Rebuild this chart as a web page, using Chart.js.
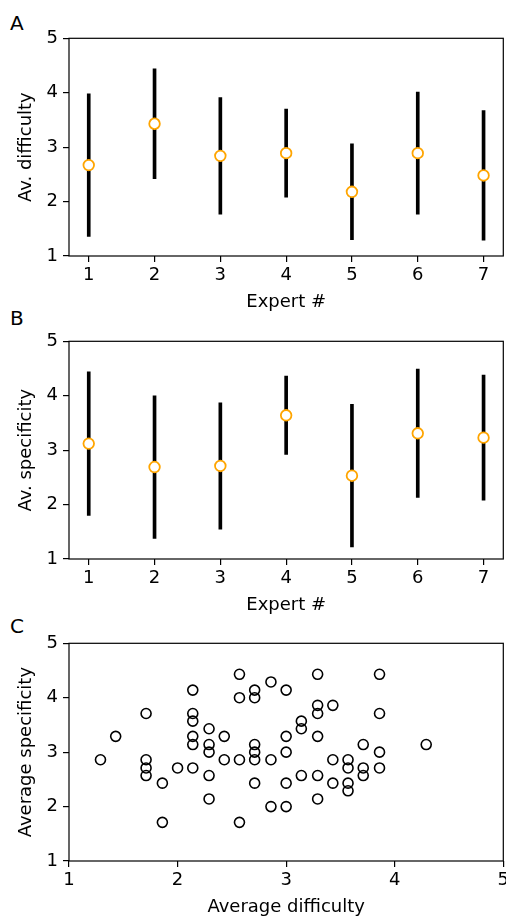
<!DOCTYPE html>
<html lang="en">
<head>
<meta charset="UTF-8">
<title>Expert ratings</title>
<script src="https://cdn.jsdelivr.net/npm/chart.js"></script>
<style>
  html, body { margin: 0; padding: 0; background: #fff; overflow: hidden; }
  body { position: relative; width: 506px; height: 917px; font-family: "DejaVu Sans", sans-serif; }
  canvas { position: absolute; left: 0; }
  .letter { position: absolute; left: 10px; font-size: 20px; line-height: 20px; color: #000; }
</style>
</head>
<body>
<div class="letter" style="top:12.7px">A</div>
<div class="letter" style="top:308.4px">B</div>
<div class="letter" style="top:615.7px">C</div>
<canvas id="chartA" width="506" height="318" style="top:0px"></canvas>
<canvas id="chartB" width="506" height="318" style="top:303px"></canvas>
<canvas id="chartC" width="506" height="318" style="top:605px"></canvas>

<script>
// panels A and B: mean +/- sd per expert
const expertNums = [1, 2, 3, 4, 5, 6, 7];
const difficultyMean = [2.67, 3.43, 2.84, 2.89, 2.18, 2.89, 2.48];
const difficultySd = [1.31, 1.01, 1.07, 0.81, 0.88, 1.12, 1.19];
const specificityMean = [3.12, 2.69, 2.71, 3.64, 2.53, 3.31, 3.23];
const specificitySd = [1.32, 1.31, 1.16, 0.72, 1.31, 1.18, 1.15];

// panel C: one point per item
const avgDifficulty = [
    2.57, 3.29, 3.86,
    2.86,
    2.14, 2.71, 3.00,
    2.57, 2.71,
    3.29, 3.43,
    1.71, 2.14, 3.29, 3.86,
    2.14, 3.14,
    2.29, 3.14,
    1.43, 2.14, 2.43, 3.00, 3.29,
    2.14, 2.29, 2.71, 3.71, 4.29,
    2.29, 2.71, 3.00, 3.86,
    1.29, 1.71, 2.43, 2.57, 2.71, 2.86, 3.43, 3.57,
    1.71, 2.00, 2.14, 3.57, 3.71, 3.86,
    1.71, 2.29, 3.14, 3.29, 3.71,
    1.86, 2.71, 3.00, 3.43, 3.57,
    3.57,
    2.29, 3.29,
    2.86, 3.00,
    1.86, 2.57
];
const avgSpecificity = [
    4.43, 4.43, 4.43,
    4.29,
    4.14, 4.14, 4.14,
    4.00, 4.00,
    3.86, 3.86,
    3.71, 3.71, 3.71, 3.71,
    3.57, 3.57,
    3.43, 3.43,
    3.29, 3.29, 3.29, 3.29, 3.29,
    3.14, 3.14, 3.14, 3.14, 3.14,
    3.00, 3.00, 3.00, 3.00,
    2.86, 2.86, 2.86, 2.86, 2.86, 2.86, 2.86, 2.86,
    2.71, 2.71, 2.71, 2.71, 2.71, 2.71,
    2.57, 2.57, 2.57, 2.57, 2.57,
    2.43, 2.43, 2.43, 2.43, 2.43,
    2.29,
    2.14, 2.14,
    2.00, 2.00,
    1.71, 1.71
];

Chart.defaults.font.family = 'DejaVu Sans';
Chart.defaults.font.size = 18;
Chart.defaults.color = '#000';

// matplotlib style box round the plot area
const framePlugin = {
    id: 'frame',
    afterDraw(chart) {
        const {ctx, chartArea: a} = chart;
        ctx.save();
        ctx.strokeStyle = '#000';
        ctx.lineWidth = 1.2;
        ctx.strokeRect(a.left, a.top, a.right - a.left, a.bottom - a.top);
        ctx.restore();
    }
};

function axisOptions(xMin, xMax, xTitle, yTitle) {
    const tickGrid = {drawOnChartArea: false, drawTicks: true, tickLength: 6, color: '#000', lineWidth: 1.2, offset: false};
    return {
        x: {
            type: 'linear', min: xMin, max: xMax, offset: false,
            grid: tickGrid,
            border: {display: false},
            ticks: {stepSize: 1, includeBounds: false, padding: 3, maxRotation: 0},
            title: {display: true, text: xTitle, padding: {top: 0, bottom: 5}},
            afterFit: s => { s.height = 62; s.paddingLeft = 0; s.paddingRight = 0; }
        },
        y: {
            type: 'linear', min: 1, max: 5,
            grid: tickGrid,
            border: {display: false},
            ticks: {stepSize: 1, padding: 5},
            title: {display: true, text: yTitle, padding: {top: 15.5, bottom: 0}},
            afterFit: s => { s.width = 69; s.paddingTop = 0; s.paddingBottom = 0; }
        }
    };
}

function commonOptions(scales) {
    return {
        responsive: false,
        animation: false,
        layout: {autoPadding: false, padding: {top: 38.3, right: 2.7, left: 0, bottom: 0}},
        plugins: {legend: {display: false}, tooltip: {enabled: false}},
        scales: scales
    };
}

function makeExpertChart(id, means, sds, yTitle) {
    new Chart(document.getElementById(id), {
        type: 'bar',
        data: {
            datasets: [
                {
                    type: 'line',
                    data: expertNums.map((x, i) => ({x: x, y: means[i]})),
                    showLine: false,
                    pointRadius: 5.3,
                    pointBorderWidth: 1.8,
                    pointBorderColor: '#ffa500',
                    pointBackgroundColor: '#ffffff',
                    order: 1
                },
                {
                    type: 'bar',
                    data: expertNums.map((x, i) => ({x: x, y: [means[i] - sds[i], means[i] + sds[i]]})),
                    backgroundColor: '#000',
                    barThickness: 3,
                    order: 2
                }
            ]
        },
        options: commonOptions(axisOptions(0.7, 7.3, 'Expert #', yTitle)),
        plugins: [framePlugin]
    });
}

makeExpertChart('chartA', difficultyMean, difficultySd, 'Av. difficulty');
makeExpertChart('chartB', specificityMean, specificitySd, 'Av. specificity');

new Chart(document.getElementById('chartC'), {
    type: 'scatter',
    data: {
        datasets: [{
            data: avgDifficulty.map((x, i) => ({x: x, y: avgSpecificity[i]})),
            pointRadius: 5,
            pointBorderWidth: 1.6,
            pointBorderColor: '#000',
            pointBackgroundColor: 'rgba(0,0,0,0)'
        }]
    },
    options: commonOptions(axisOptions(1, 5, 'Average difficulty', 'Average specificity')),
    plugins: [framePlugin]
});
</script>
</body>
</html>
